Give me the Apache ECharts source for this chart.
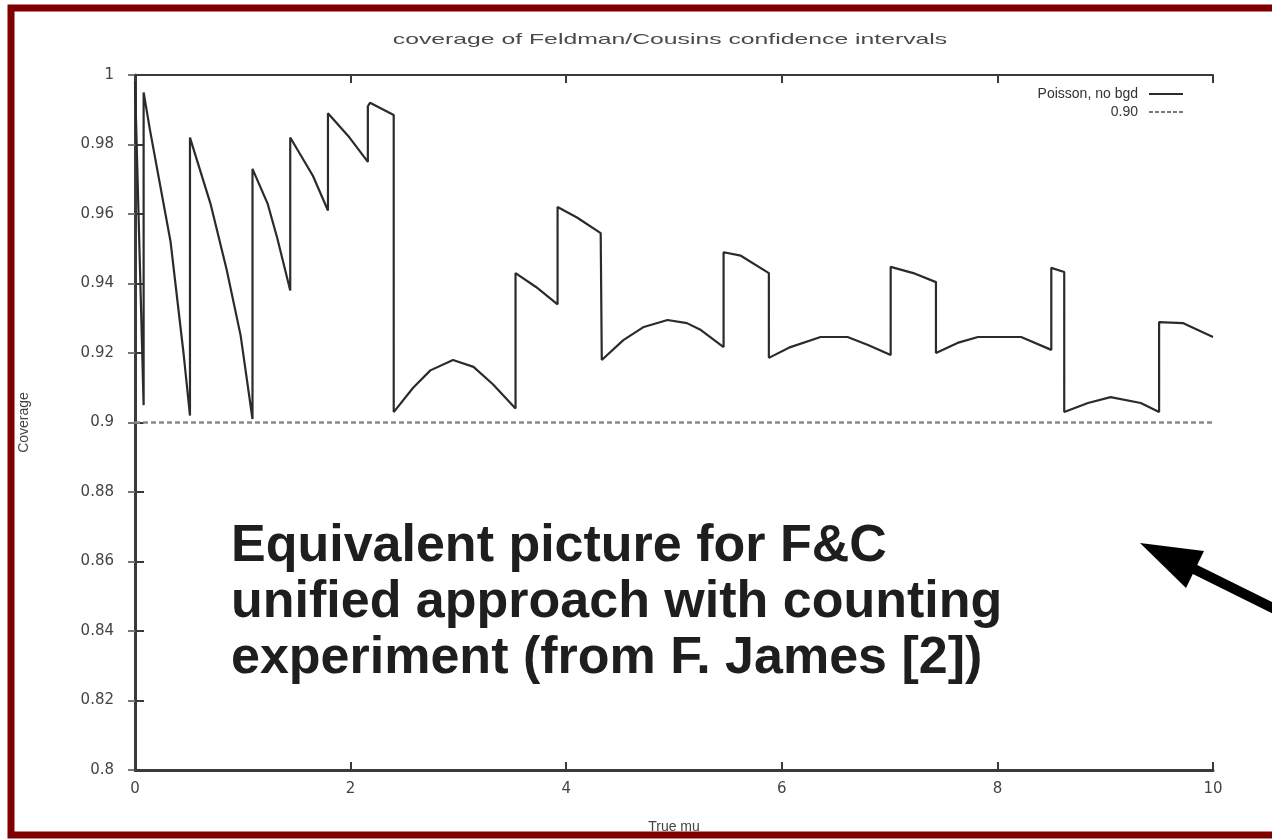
<!DOCTYPE html>
<html>
<head>
<meta charset="utf-8">
<script src="https://cdn.jsdelivr.net/npm/echarts@6/dist/echarts.min.js"></script>
<style>
  html, body { margin: 0; padding: 0; background: #ffffff; }
  #chart { width: 1272px; height: 839px; }
</style>
</head>
<body>
<div id="chart"></div>
<script>
// Coverage of Feldman/Cousins 90% intervals vs. true mean (Poisson, no background).
// Repeated mu values mark the vertical jumps where an n enters or leaves the acceptance set.
const trueMu = [
  0.00, 0.08, 0.08, 0.14, 0.33, 0.45, 0.51,
  0.51, 0.70, 0.85, 0.98, 1.09,
  1.09, 1.23, 1.32, 1.44,
  1.44, 1.65, 1.79,
  1.79, 1.99, 2.16,
  2.16, 2.18, 2.40,
  2.40, 2.58, 2.74, 2.95, 3.14, 3.32, 3.53,
  3.53, 3.72, 3.92,
  3.92, 4.10, 4.32,
  4.33, 4.53, 4.72, 4.94, 5.12, 5.25, 5.46,
  5.46, 5.62, 5.88,
  5.88, 6.08, 6.36, 6.61, 6.80, 7.01,
  7.01, 7.22, 7.43,
  7.43, 7.63, 7.82, 8.22, 8.50,
  8.50, 8.62,
  8.62, 8.84, 9.05, 9.33, 9.50,
  9.50, 9.72, 10.00
];
const coverage = [
  0.998, 0.905, 0.995, 0.984, 0.952, 0.920, 0.902,
  0.982, 0.963, 0.944, 0.925, 0.901,
  0.973, 0.963, 0.953, 0.938,
  0.982, 0.971, 0.961,
  0.989, 0.982, 0.975,
  0.991, 0.992, 0.9885,
  0.903, 0.910, 0.915, 0.918, 0.916, 0.911, 0.904,
  0.943, 0.939, 0.934,
  0.962, 0.959, 0.9545,
  0.918, 0.9237, 0.9275, 0.9295, 0.9286, 0.9266, 0.9217,
  0.949, 0.948, 0.943,
  0.9186, 0.9217, 0.9246, 0.9246, 0.9223, 0.9194,
  0.9448, 0.943, 0.9404,
  0.920, 0.9229, 0.9246, 0.9246, 0.9209,
  0.9445, 0.9433,
  0.903, 0.9056, 0.9073, 0.9056, 0.903,
  0.9289, 0.9286, 0.9246
];
// Nominal confidence level reference line
const nominalMu = [0, 10];
const nominalLevel = [0.90, 0.90];

const seriesNames = ['Poisson, no bgd', '0.90'];
const xTickLabels = ['0', '2', '4', '6', '8', '10'];
const yTickLabels = ['0.8', '0.82', '0.84', '0.86', '0.88', '0.9', '0.92', '0.94', '0.96', '0.98', '1'];

const noteLines = [
  'Equivalent picture for F&C',
  'unified approach with counting',
  'experiment (from F. James [2])'
];

const coverageData = trueMu.map((m, i) => [m, coverage[i]]);
const nominalData = nominalMu.map((m, i) => [m, nominalLevel[i]]);

const axisGray = '#3a3a3a';
const labelGray = '#444444';

// key samples in the style of the plotted lines
const solidKey = 'path://M0,0H34V2H0Z';
const dashedKey = 'path://M0,0H4V2H0Z M6,0H10V2H6Z M12,0H16V2H12Z M18,0H22V2H18Z M24,0H28V2H24Z M30,0H34V2H30Z';

function xLabel(v) {
  const i = Math.round(v / 2);
  return xTickLabels[i] !== undefined ? xTickLabels[i] : '';
}
function yLabel(v) {
  const i = Math.round((v - 0.8) / 0.02);
  return yTickLabels[i] !== undefined ? yTickLabels[i] : '';
}

const chart = echarts.init(document.getElementById('chart'), null, { renderer: 'canvas' });

const option = {
  backgroundColor: '#ffffff',
  animation: false,
  grid: { left: 135, right: 59, top: 75, bottom: 69, show: false },
  legend: {
    orient: 'vertical',
    right: 84,
    top: 82,
    align: 'right',
    itemWidth: 34,
    itemHeight: 2,
    itemGap: 4,
    selectedMode: false,
    itemStyle: { borderWidth: 0 },
    textStyle: { color: '#333', fontSize: 14, fontFamily: 'Liberation Sans', padding: [0, 6, 0, 0] },
    data: [
      { name: seriesNames[0], icon: solidKey },
      { name: seriesNames[1], icon: dashedKey }
    ]
  },
  xAxis: [
    {
      type: 'value', min: 0, max: 10, interval: 2, position: 'bottom',
      name: 'True mu', nameLocation: 'middle', nameGap: 50,
      nameTextStyle: { color: labelGray, fontSize: 14, fontFamily: 'Liberation Sans' },
      axisLine: { show: true, lineStyle: { color: axisGray, width: 3 } },
      axisTick: { show: true, inside: true, length: 8, lineStyle: { color: axisGray, width: 2 } },
      axisLabel: { color: labelGray, fontSize: 15, margin: 12, fontFamily: 'DejaVu Sans', formatter: xLabel },
      splitLine: { show: false }
    },
    {
      type: 'value', min: 0, max: 10, interval: 2, position: 'top',
      axisLine: { show: true, lineStyle: { color: axisGray, width: 2 } },
      axisTick: { show: true, inside: true, length: 8, lineStyle: { color: axisGray, width: 2 } },
      axisLabel: { show: false },
      splitLine: { show: false }
    }
  ],
  yAxis: [
    {
      type: 'value', min: 0.8, max: 1, interval: 0.02, position: 'left',
      name: 'Coverage', nameLocation: 'middle', nameGap: 104, nameRotate: 90,
      nameTextStyle: { color: labelGray, fontSize: 14, fontFamily: 'Liberation Sans' },
      axisLine: { show: true, lineStyle: { color: axisGray, width: 3 } },
      axisTick: { show: true, inside: true, length: 9, lineStyle: { color: axisGray, width: 2 } },
      axisLabel: { color: labelGray, fontSize: 15, margin: 21, fontFamily: 'DejaVu Sans', formatter: yLabel },
      splitLine: { show: false }
    },
    {
      type: 'value', min: 0.8, max: 1, interval: 0.02, position: 'right',
      axisLine: { show: true, lineStyle: { color: axisGray, width: 2 } },
      axisTick: { show: true, inside: true, length: 7, lineStyle: { color: '#777', width: 2 } },
      axisLabel: { show: false },
      splitLine: { show: false }
    }
  ],
  series: [
    {
      name: seriesNames[0],
      type: 'line',
      xAxisIndex: 0, yAxisIndex: 0,
      data: coverageData,
      symbol: 'none',
      color: '#2b2b2b',
      lineStyle: { color: '#2b2b2b', width: 2.2 },
      z: 3
    },
    {
      name: seriesNames[1],
      type: 'line',
      xAxisIndex: 0, yAxisIndex: 0,
      data: nominalData,
      symbol: 'none',
      color: '#777777',
      lineStyle: { color: '#8a8a8a', width: 2.5, type: [5, 3] },
      z: 2
    }
  ],
  graphic: [
    {
      type: 'text', x: 670, y: 40, z: 10,
      scaleX: 1.65,
      style: {
        text: 'coverage of Feldman/Cousins confidence intervals',
        textAlign: 'center', textVerticalAlign: 'middle',
        fill: '#4a4a4a', fontSize: 15, fontFamily: 'Liberation Sans'
      }
    },
    {
      type: 'text', left: 231, top: 519, z: 20,
      style: {
        text: noteLines.join('\n'),
        fill: '#1e1e1e', fontSize: 52, fontWeight: 'bold',
        fontFamily: 'Liberation Sans', lineHeight: 56
      }
    },
    {
      // pointer arrow: head
      type: 'polygon', z: 20,
      shape: { points: [[1140, 543], [1204, 551], [1186, 588]] },
      style: { fill: '#000000' }
    },
    {
      // pointer arrow: shaft
      type: 'line', z: 20,
      shape: { x1: 1188, y1: 566, x2: 1285, y2: 614 },
      style: { stroke: '#000000', lineWidth: 10 }
    },
    {
      // frame around the figure
      type: 'rect', z: 30,
      shape: { x: 11, y: 8, width: 1290, height: 827 },
      style: { fill: null, stroke: '#800000', lineWidth: 7 }
    }
  ]
};

chart.setOption(option);
</script>
</body>
</html>
